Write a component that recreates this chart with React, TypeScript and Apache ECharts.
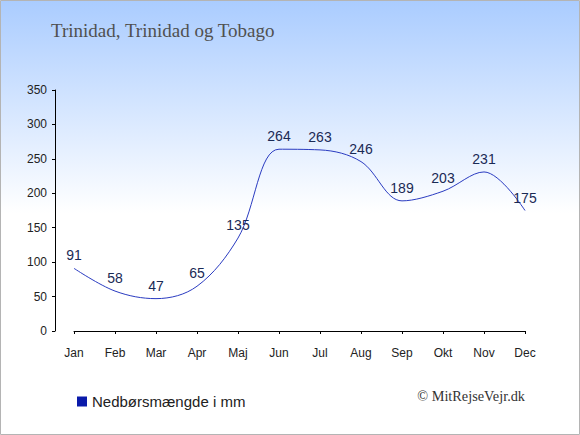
import React, { useEffect, useRef } from "react";
import * as echarts from "echarts";

const months = ["Jan", "Feb", "Mar", "Apr", "Maj", "Jun", "Jul", "Aug", "Sep", "Okt", "Nov", "Dec"];
const rainfall = [91, 58, 47, 65, 135, 264, 263, 246, 189, 203, 231, 175];
const titleText = "Trinidad, Trinidad og Tobago";
const legendText = "Nedbørsmængde i mm";
const creditText = "© MitRejseVejr.dk";

export default function App() {
  const ref = useRef<HTMLDivElement>(null);
  useEffect(() => {
    document.body.style.margin = "0";
    const chart = echarts.init(ref.current!, null, { renderer: "svg" });
    chart.setOption({
      animation: false,
      graphic: [
        {
          type: "rect",
          z: -10,
          silent: true,
          shape: { x: 0.5, y: 0.5, width: 579, height: 434 },
          style: {
            fill: new echarts.graphic.LinearGradient(0, 0, 0, 1, [
              { offset: 0, color: "#aaccff" },
              { offset: 0.49, color: "#ffffff" },
              { offset: 1, color: "#ffffff" },
            ]),
            stroke: "#b4b4b4",
            lineWidth: 1,
          },
        },
        {
          type: "text",
          left: 51,
          top: 21,
          style: {
            text: titleText,
            fill: "#505050",
            font: '19px "Liberation Serif", serif',
          },
        },
        {
          type: "text",
          right: 55,
          top: 389,
          style: {
            text: creditText,
            fill: "#333333",
            font: '14.3px "Liberation Serif", serif',
          },
        },
      ],
      legend: {
        left: 72,
        top: 389,
        icon: "rect",
        itemWidth: 10,
        itemHeight: 10,
        itemGap: 6,
        textStyle: { color: "#222222", fontSize: 15, fontFamily: "Liberation Sans, Arial, sans-serif" },
        data: [{ name: legendText, itemStyle: { color: "#0a1aaa" } }],
      },
      grid: { left: 74, right: 55, top: 90, bottom: 104 },
      xAxis: {
        type: "category",
        data: months,
        boundaryGap: false,
        offset: 10,
        axisLine: { lineStyle: { color: "#000000", width: 1 } },
        axisTick: { alignWithLabel: true, length: 3, lineStyle: { color: "#000000" } },
        axisLabel: { color: "#222222", fontSize: 12, margin: 6, fontFamily: "Liberation Sans, Arial, sans-serif" },
        splitLine: { show: false },
      },
      yAxis: {
        type: "value",
        min: 0,
        max: 350,
        interval: 50,
        offset: 19,
        axisLine: { show: true, lineStyle: { color: "#000000", width: 1 } },
        axisTick: { show: true, length: 3, lineStyle: { color: "#000000" } },
        axisLabel: { color: "#222222", fontSize: 12, margin: 8, fontFamily: "Liberation Sans, Arial, sans-serif" },
        splitLine: { show: false },
      },
      series: [
        {
          name: legendText,
          type: "line",
          data: rainfall,
          smooth: 0.35,
          symbol: "circle",
          symbolSize: 0,
          showSymbol: true,
          lineStyle: { color: "#2a3bc0", width: 1 },
          itemStyle: { color: "#0a1aaa" },
          label: {
            show: true,
            position: "top",
            distance: 6,
            color: "#1a2a55",
            fontSize: 14,
            fontFamily: "Liberation Sans, Arial, sans-serif",
          },
        },
      ],
    });
    return () => chart.dispose();
  }, []);
  return <div ref={ref} style={{ width: 580, height: 435 }} />;
}
